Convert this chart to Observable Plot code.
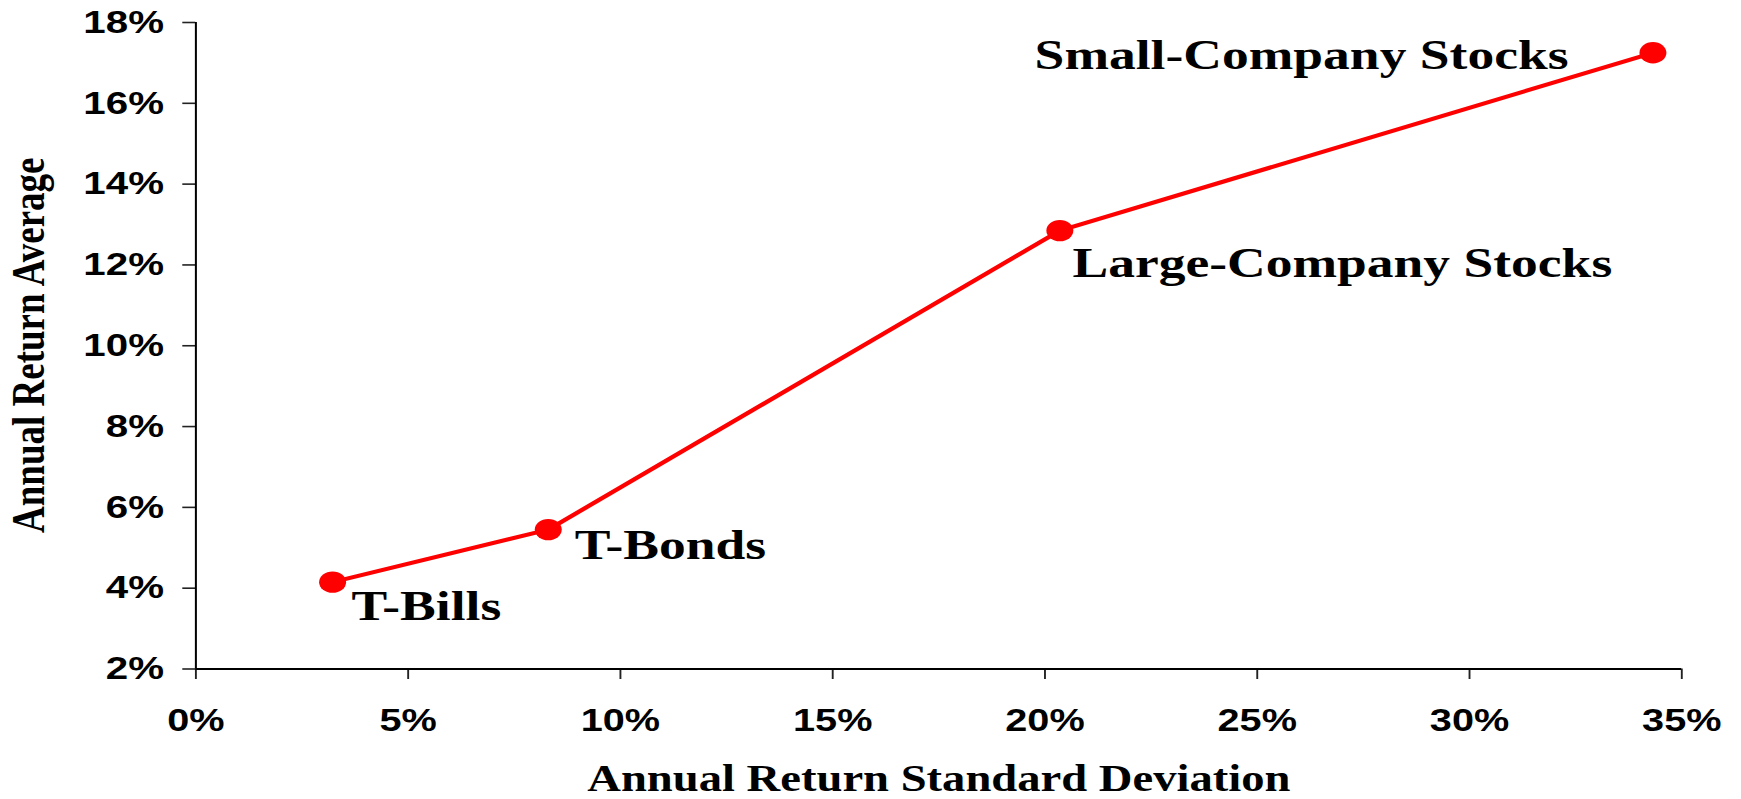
<!DOCTYPE html>
<html>
<head>
<meta charset="utf-8">
<script src="https://cdn.jsdelivr.net/npm/d3@7"></script>
<script src="https://cdn.jsdelivr.net/npm/@observablehq/plot@0.6"></script>
<style>
  html, body { margin: 0; padding: 0; background: #fff; overflow: hidden; }
  #chart svg { display: block; }
</style>
</head>
<body>
<div id="chart"></div>
<script>
// ---- Data ----
const assetClasses = ["T-Bills", "T-Bonds", "Large-Company Stocks", "Small-Company Stocks"];
const stdDevs      = [0.0322, 0.0830, 0.2035, 0.3432];   // annual return standard deviation
const avgReturns   = [0.0415, 0.0545, 0.1285, 0.1725];   // annual return average
const xTicks = [0, 0.05, 0.10, 0.15, 0.20, 0.25, 0.30, 0.35];
const yTicks = [0.02, 0.04, 0.06, 0.08, 0.10, 0.12, 0.14, 0.16, 0.18];
const xTitle = "Annual Return Standard Deviation";
const yTitle = "Annual Return Average";

const data = assetClasses.map((name, i) => ({name, sd: stdDevs[i], ret: avgReturns[i]}));

// The reference chart is horizontally stretched; draw in a narrower frame and stretch the SVG.
const OUT_W = 1741, OUT_H = 799;
const STRETCH = 1.26;
const W = Math.round(OUT_W / STRETCH);
const ML = 155, MT = 22, MB = 130.5;

const serif = "'Liberation Serif', 'Times New Roman', Times, serif";
const sans = "'Liberation Sans', Arial, Helvetica, sans-serif";
const pct = d3.format(".0%");

const label = (name, opts) => Plot.text(data.filter(d => d.name === name), {
  x: "sd", y: "ret", text: "name",
  fontFamily: serif, fontSize: 42.5, fontWeight: "bold", fill: "black",
  lineAnchor: "bottom", ...opts
});

const chart = Plot.plot({
  width: W,
  height: OUT_H,
  marginLeft: ML,
  marginRight: W - 1334.5,
  marginTop: MT,
  marginBottom: MB,
  style: {fontFamily: sans, fontWeight: "bold", background: "white", color: "black"},
  x: {domain: [0, 0.35], label: null},
  y: {domain: [0.02, 0.18], label: null},
  marks: [
    Plot.axisX({ticks: xTicks, tickFormat: pct, tickSize: 10.5, tickPadding: 29.5,
                fontSize: 31.5, label: null, stroke: "#222", strokeWidth: 1.5, fill: "black"}),
    Plot.axisY({ticks: yTicks, tickFormat: pct, tickSize: 10.3, tickPadding: 15,
                fontSize: 32, label: null, stroke: "#222", strokeWidth: 1.6, fill: "black"}),
    Plot.ruleX([0], {y1: 0.02, y2: 0.18, stroke: "black", strokeWidth: 1.6}),
    Plot.ruleY([0.02], {x1: 0, x2: 0.35, stroke: "black", strokeWidth: 2}),
    Plot.line(data, {x: "sd", y: "ret", stroke: "#ff0000", strokeWidth: 4}),
    Plot.dot(data, {x: "sd", y: "ret", r: 10.7, fill: "#ff0000", stroke: "none"}),
    label("T-Bills", {textAnchor: "start", dx: 15, dy: 38}),
    label("T-Bonds", {textAnchor: "start", dx: 21, dy: 29}),
    label("Large-Company Stocks", {textAnchor: "start", dx: 10, dy: 46}),
    label("Small-Company Stocks", {textAnchor: "end", dx: -67, dy: 16}),
    Plot.text([xTitle], {text: d => d, frameAnchor: "bottom", lineAnchor: "bottom", dy: 122,
                         fontFamily: serif, fontSize: 37, fontWeight: "bold", fill: "black"})
  ]
});

// y-axis title (rotated), centred on the plot frame
d3.select(chart).append("text")
  .attr("transform", `translate(35,${(MT + OUT_H - MB) / 2}) rotate(-90)`)
  .attr("text-anchor", "middle")
  .attr("font-family", serif)
  .attr("font-size", 37)
  .attr("font-weight", "bold")
  .attr("fill", "black")
  .text(yTitle);

chart.setAttribute("width", OUT_W);
chart.setAttribute("height", OUT_H);
chart.setAttribute("viewBox", `0 0 ${W} ${OUT_H}`);
chart.setAttribute("preserveAspectRatio", "none");
chart.style.width = OUT_W + "px";
chart.style.height = OUT_H + "px";
chart.style.maxWidth = "none";
document.getElementById("chart").appendChild(chart);
</script>
</body>
</html>
